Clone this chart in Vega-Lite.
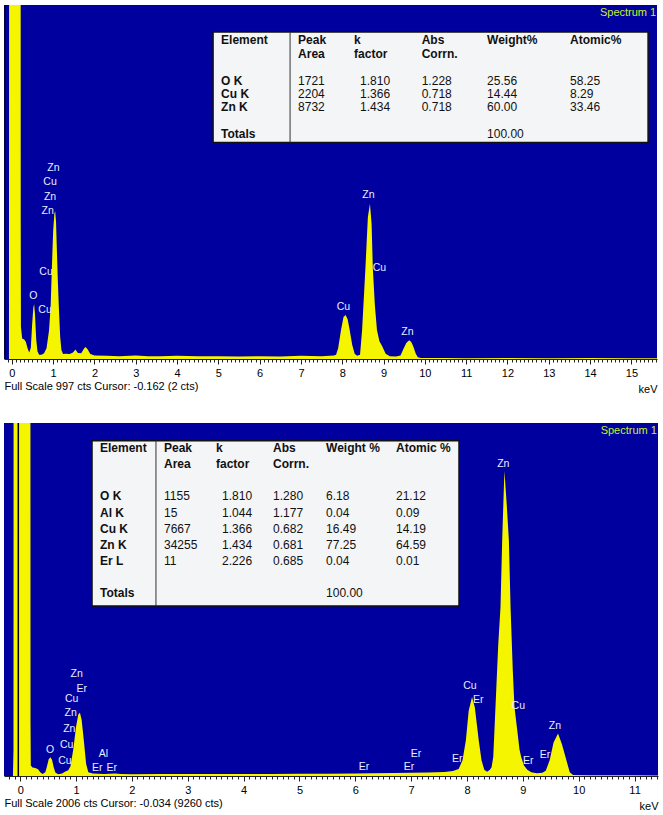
{
"$schema": "https://vega.github.io/schema/vega-lite/v6.json",
"background": "white",
"padding": {"left": 4, "top": 5, "right": 2, "bottom": 2},
"spacing": 29,
"datasets": {
"spec1": [{"keV":-0.19,"counts":0},{"keV":-0.07,"counts":0},{"keV":-0.065,"counts":1500},{"keV":-0.06,"counts":3000},{"keV":0.21,"counts":3000},{"keV":0.215,"counts":400},{"keV":0.22,"counts":90},{"keV":0.25,"counts":58},{"keV":0.3,"counts":55},{"keV":0.34,"counts":48},{"keV":0.38,"counts":30},{"keV":0.42,"counts":18},{"keV":0.46,"counts":32},{"keV":0.49,"counts":95},{"keV":0.52,"counts":145},{"keV":0.54,"counts":154},{"keV":0.56,"counts":125},{"keV":0.59,"counts":55},{"keV":0.62,"counts":22},{"keV":0.66,"counts":12},{"keV":0.72,"counts":12},{"keV":0.78,"counts":16},{"keV":0.84,"counts":30},{"keV":0.9,"counts":80},{"keV":0.94,"counts":150},{"keV":0.97,"counts":260},{"keV":1.0,"counts":360},{"keV":1.03,"counts":410},{"keV":1.05,"counts":416},{"keV":1.07,"counts":385},{"keV":1.11,"counts":232},{"keV":1.14,"counts":140},{"keV":1.17,"counts":63},{"keV":1.2,"counts":25},{"keV":1.24,"counts":14},{"keV":1.3,"counts":15},{"keV":1.4,"counts":14},{"keV":1.48,"counts":18},{"keV":1.54,"counts":27},{"keV":1.6,"counts":17},{"keV":1.68,"counts":16},{"keV":1.74,"counts":28},{"keV":1.78,"counts":34},{"keV":1.83,"counts":28},{"keV":1.9,"counts":14},{"keV":2.0,"counts":10},{"keV":2.3,"counts":9},{"keV":2.6,"counts":8},{"keV":3.0,"counts":10},{"keV":3.3,"counts":8},{"keV":3.6,"counts":8},{"keV":4.0,"counts":9},{"keV":4.5,"counts":8},{"keV":5.0,"counts":8},{"keV":5.5,"counts":7},{"keV":6.0,"counts":8},{"keV":6.5,"counts":7},{"keV":7.0,"counts":9},{"keV":7.5,"counts":8},{"keV":7.8,"counts":10},{"keV":7.85,"counts":12},{"keV":7.9,"counts":30},{"keV":7.97,"counts":82},{"keV":8.03,"counts":118},{"keV":8.08,"counts":124},{"keV":8.13,"counts":112},{"keV":8.18,"counts":82},{"keV":8.24,"counts":40},{"keV":8.3,"counts":15},{"keV":8.36,"counts":9},{"keV":8.43,"counts":12},{"keV":8.48,"counts":82},{"keV":8.56,"counts":255},{"keV":8.62,"counts":400},{"keV":8.67,"counts":437},{"keV":8.71,"counts":380},{"keV":8.74,"counts":255},{"keV":8.79,"counts":150},{"keV":8.84,"counts":82},{"keV":8.9,"counts":50},{"keV":8.97,"counts":35},{"keV":9.05,"counts":15},{"keV":9.15,"counts":8},{"keV":9.3,"counts":7},{"keV":9.41,"counts":10},{"keV":9.48,"counts":28},{"keV":9.55,"counts":45},{"keV":9.62,"counts":53},{"keV":9.67,"counts":48},{"keV":9.72,"counts":35},{"keV":9.78,"counts":15},{"keV":9.83,"counts":5},{"keV":9.9,"counts":3},{"keV":10.5,"counts":3},{"keV":11,"counts":2},{"keV":12,"counts":3},{"keV":13,"counts":2},{"keV":14,"counts":3},{"keV":15,"counts":2},{"keV":15.62,"counts":2}],
"spec2": [{"keV":-0.29,"counts":0},{"keV":-0.13,"counts":0},{"keV":-0.12,"counts":150},{"keV":-0.115,"counts":6000},{"keV":0.18,"counts":6000},{"keV":0.185,"counts":300},{"keV":0.19,"counts":60},{"keV":0.22,"counts":48},{"keV":0.27,"counts":45},{"keV":0.32,"counts":38},{"keV":0.36,"counts":22},{"keV":0.4,"counts":12},{"keV":0.45,"counts":22},{"keV":0.48,"counts":55},{"keV":0.51,"counts":95},{"keV":0.54,"counts":106},{"keV":0.57,"counts":92},{"keV":0.6,"counts":50},{"keV":0.63,"counts":20},{"keV":0.68,"counts":10},{"keV":0.75,"counts":14},{"keV":0.8,"counts":24},{"keV":0.86,"counts":32},{"keV":0.9,"counts":55},{"keV":0.95,"counts":150},{"keV":1.0,"counts":280},{"keV":1.04,"counts":350},{"keV":1.07,"counts":360},{"keV":1.1,"counts":320},{"keV":1.14,"counts":200},{"keV":1.18,"counts":70},{"keV":1.22,"counts":22},{"keV":1.3,"counts":14},{"keV":1.5,"counts":12},{"keV":1.7,"counts":14},{"keV":1.8,"counts":11},{"keV":2.0,"counts":10},{"keV":2.5,"counts":12},{"keV":3.0,"counts":11},{"keV":3.5,"counts":12},{"keV":4.0,"counts":12},{"keV":4.5,"counts":11},{"keV":5.0,"counts":13},{"keV":5.5,"counts":13},{"keV":6.0,"counts":14},{"keV":6.3,"counts":16},{"keV":6.7,"counts":17},{"keV":7.0,"counts":19},{"keV":7.3,"counts":20},{"keV":7.6,"counts":23},{"keV":7.75,"counts":28},{"keV":7.85,"counts":40},{"keV":7.92,"counts":89},{"keV":7.98,"counts":203},{"keV":8.03,"counts":370},{"keV":8.09,"counts":449},{"keV":8.14,"counts":390},{"keV":8.21,"counts":203},{"keV":8.26,"counts":89},{"keV":8.31,"counts":35},{"keV":8.36,"counts":24},{"keV":8.41,"counts":35},{"keV":8.44,"counts":50},{"keV":8.47,"counts":108},{"keV":8.51,"counts":392},{"keV":8.56,"counts":750},{"keV":8.6,"counts":961},{"keV":8.63,"counts":1339},{"keV":8.67,"counts":1733},{"keV":8.71,"counts":1550},{"keV":8.75,"counts":1339},{"keV":8.78,"counts":961},{"keV":8.82,"counts":600},{"keV":8.85,"counts":392},{"keV":8.9,"counts":260},{"keV":8.94,"counts":150},{"keV":8.97,"counts":108},{"keV":9.02,"counts":60},{"keV":9.08,"counts":35},{"keV":9.15,"counts":22},{"keV":9.25,"counts":16},{"keV":9.35,"counts":18},{"keV":9.41,"counts":30},{"keV":9.48,"counts":89},{"keV":9.55,"counts":190},{"keV":9.63,"counts":241},{"keV":9.7,"counts":180},{"keV":9.78,"counts":89},{"keV":9.84,"counts":22},{"keV":9.9,"counts":6},{"keV":10.2,"counts":4},{"keV":10.5,"counts":4},{"keV":11,"counts":4},{"keV":11.42,"counts":3}],
"labels1": [{"keV":1.005,"counts":537,"label":"Zn"},{"keV":0.925,"counts":498,"label":"Cu"},{"keV":0.925,"counts":457,"label":"Zn"},{"keV":0.869,"counts":418,"label":"Zn"},{"keV":0.828,"counts":246,"label":"Cu"},{"keV":0.52,"counts":178,"label":"O"},{"keV":0.804,"counts":138,"label":"Cu"},{"keV":8.632,"counts":462,"label":"Zn"},{"keV":8.898,"counts":255,"label":"Cu"},{"keV":8.027,"counts":147,"label":"Cu"},{"keV":9.576,"counts":77,"label":"Zn"}],
"labels2": [{"keV":1.012,"counts":578,"label":"Zn"},{"keV":1.101,"counts":497,"label":"Er"},{"keV":0.922,"counts":440,"label":"Cu"},{"keV":0.904,"counts":358,"label":"Zn"},{"keV":0.879,"counts":269,"label":"Zn"},{"keV":0.833,"counts":174,"label":"Cu"},{"keV":0.534,"counts":146,"label":"O"},{"keV":0.802,"counts":85,"label":"Cu"},{"keV":1.488,"counts":123,"label":"Al"},{"keV":1.38,"counts":48,"label":"Er"},{"keV":1.638,"counts":48,"label":"Er"},{"keV":6.156,"counts":52,"label":"Er"},{"keV":6.961,"counts":51,"label":"Er"},{"keV":7.087,"counts":123,"label":"Er"},{"keV":7.826,"counts":99,"label":"Er"},{"keV":8.054,"counts":510,"label":"Cu"},{"keV":8.202,"counts":430,"label":"Er"},{"keV":8.919,"counts":398,"label":"Cu"},{"keV":9.097,"counts":85,"label":"Er"},{"keV":9.396,"counts":118,"label":"Er"},{"keV":9.575,"counts":284,"label":"Zn"},{"keV":8.65,"counts":1771,"label":"Zn"}],
"meta1": [{"cursor": -0.162, "name": "Spectrum 1"}],
"meta2": [{"cursor": -0.034, "name": "Spectrum 1"}],
"t1": [
 {"line":0,"Element":"Element","Peak":"Peak","k":"k","Abs":"Abs","Weight":"Weight%","Atomic":"Atomic%"},
 {"line":1,"Element":"","Peak":"Area","k":"factor","Abs":"Corrn.","Weight":"","Atomic":""},
 {"line":3,"Element":"O K","Peak":"1721","k":"1.810","Abs":"1.228","Weight":"25.56","Atomic":"58.25"},
 {"line":4,"Element":"Cu K","Peak":"2204","k":"1.366","Abs":"0.718","Weight":"14.44","Atomic":"8.29"},
 {"line":5,"Element":"Zn K","Peak":"8732","k":"1.434","Abs":"0.718","Weight":"60.00","Atomic":"33.46"},
 {"line":7,"Element":"Totals","Peak":"","k":"","Abs":"","Weight":"100.00","Atomic":""}
],
"t2": [
 {"line":0,"Element":"Element","Peak":"Peak","k":"k","Abs":"Abs","Weight":"Weight %","Atomic":"Atomic %"},
 {"line":1,"Element":"","Peak":"Area","k":"factor","Abs":"Corrn.","Weight":"","Atomic":""},
 {"line":3,"Element":"O K","Peak":"1155","k":"1.810","Abs":"1.280","Weight":"6.18","Atomic":"21.12"},
 {"line":4,"Element":"Al K","Peak":"15","k":"1.044","Abs":"1.177","Weight":"0.04","Atomic":"0.09"},
 {"line":5,"Element":"Cu K","Peak":"7667","k":"1.366","Abs":"0.682","Weight":"16.49","Atomic":"14.19"},
 {"line":6,"Element":"Zn K","Peak":"34255","k":"1.434","Abs":"0.681","Weight":"77.25","Atomic":"64.59"},
 {"line":7,"Element":"Er L","Peak":"11","k":"2.226","Abs":"0.685","Weight":"0.04","Atomic":"0.01"},
 {"line":9,"Element":"Totals","Peak":"","k":"","Abs":"","Weight":"100.00","Atomic":""}
]
},
"vconcat": [
{
 "width": 653, "height": 354,
 "resolve": {"scale": {"y": "independent"}, "axis": {"x": "independent"}},
 "layer": [
  {"data": {"name": "spec1"},
   "mark": {"type": "area", "clip": true, "color": "#f5f500", "interpolate": "linear"},
   "encoding": {
    "x": {"field": "keV", "type": "quantitative", "scale": {"domain": [-0.19, 15.62], "nice": false, "zero": false},
          "axis": {"orient": "bottom", "values": [0,1,2,3,4,5,6,7,8,9,10,11,12,13,14,15], "tickSize": 5, "labelPadding": 3, "title": "Full Scale 997 cts Cursor: -0.162  (2 cts)", "titleAnchor": "start", "titlePadding": 2}},
    "y": {"field": "counts", "type": "quantitative", "scale": {"domain": [0, 997], "nice": false, "zero": true}, "axis": null}}},
  {"data": {"name": "meta1"},
   "mark": {"type": "rule", "color": "#000000", "strokeWidth": 1.5, "clip": true},
   "encoding": {
    "x": {"field": "cursor", "type": "quantitative", "scale": {"domain": [-0.19, 15.62], "nice": false, "zero": false},
          "axis": {"orient": "bottom", "tickCount": 158, "labels": false, "domain": false, "tickSize": 3, "title": null}}}},
  {"data": {"name": "labels1"},
   "mark": {"type": "text", "align": "center", "baseline": "middle", "fontSize": 10.5, "color": "#e8eeff"},
   "encoding": {
    "x": {"field": "keV", "type": "quantitative", "scale": {"domain": [-0.19, 15.62], "nice": false, "zero": false},
          "axis": {"orient": "bottom", "labels": false, "ticks": false, "domain": false, "title": "keV", "titleAnchor": "end", "titlePadding": 24}},
    "y": {"field": "counts", "type": "quantitative", "scale": {"domain": [0, 997], "nice": false, "zero": true}, "axis": null},
    "text": {"field": "label"}}},
  {"data": {"name": "meta1"},
   "mark": {"type": "text", "align": "right", "baseline": "middle", "fontSize": 11, "color": "#c8f01e"},
   "encoding": {
    "x": {"datum": 15.6, "type": "quantitative", "axis": null},
    "y": {"datum": 974, "type": "quantitative", "scale": {"domain": [0, 997], "nice": false, "zero": true}, "axis": null},
    "text": {"field": "name"}}},
  {"data": {"name": "meta1"},
   "mark": {"type": "rect", "fill": "#f4f5f7", "stroke": "#111111", "strokeWidth": 1.5},
   "encoding": {
    "x": {"datum": 4.872, "type": "quantitative", "axis": null}, "x2": {"datum": 15.404},
    "y": {"datum": -0.636, "type": "quantitative", "scale": {"domain": [-2.657, 23.84], "reverse": true, "nice": false, "zero": false}, "axis": null}, "y2": {"datum": 7.63}}},
  {"data": {"name": "meta1"},
   "mark": {"type": "rule", "color": "#333333", "strokeWidth": 1},
   "encoding": {
    "x": {"datum": 6.736, "type": "quantitative", "axis": null},
    "y": {"datum": -0.636, "type": "quantitative", "scale": {"domain": [-2.657, 23.84], "reverse": true, "nice": false, "zero": false}, "axis": null}, "y2": {"datum": 7.63}}},
  {"data": {"name": "t1"},
   "mark": {"type": "text", "align": "left", "baseline": "middle", "fontSize": 12, "fontWeight": "bold", "color": "#111111"},
   "encoding": {"x": {"datum": 5.065, "type": "quantitative", "axis": null},
    "y": {"field": "line", "type": "quantitative", "scale": {"domain": [-2.657, 23.84], "reverse": true, "nice": false, "zero": false}, "axis": null},
    "text": {"field": "Element"}}},
  {"data": {"name": "t1"}, "transform": [{"filter": "datum.line < 2"}],
   "mark": {"type": "text", "align": "left", "baseline": "middle", "fontSize": 12, "fontWeight": "bold", "color": "#111111"},
   "encoding": {"x": {"datum": 6.93, "type": "quantitative", "axis": null},
    "y": {"field": "line", "type": "quantitative", "scale": {"domain": [-2.657, 23.84], "reverse": true, "nice": false, "zero": false}, "axis": null},
    "text": {"field": "Peak"}}},
  {"data": {"name": "t1"}, "transform": [{"filter": "datum.line >= 2"}],
   "mark": {"type": "text", "align": "left", "baseline": "middle", "fontSize": 12, "color": "#111111"},
   "encoding": {"x": {"datum": 6.93, "type": "quantitative", "axis": null},
    "y": {"field": "line", "type": "quantitative", "scale": {"domain": [-2.657, 23.84], "reverse": true, "nice": false, "zero": false}, "axis": null},
    "text": {"field": "Peak"}}},
  {"data": {"name": "t1"}, "transform": [{"filter": "datum.line < 2"}],
   "mark": {"type": "text", "align": "left", "baseline": "middle", "fontSize": 12, "fontWeight": "bold", "color": "#111111"},
   "encoding": {"x": {"datum": 8.286, "type": "quantitative", "axis": null},
    "y": {"field": "line", "type": "quantitative", "scale": {"domain": [-2.657, 23.84], "reverse": true, "nice": false, "zero": false}, "axis": null},
    "text": {"field": "k"}}},
  {"data": {"name": "t1"}, "transform": [{"filter": "datum.line >= 2"}],
   "mark": {"type": "text", "align": "left", "baseline": "middle", "fontSize": 12, "color": "#111111"},
   "encoding": {"x": {"datum": 8.431, "type": "quantitative", "axis": null},
    "y": {"field": "line", "type": "quantitative", "scale": {"domain": [-2.657, 23.84], "reverse": true, "nice": false, "zero": false}, "axis": null},
    "text": {"field": "k"}}},
  {"data": {"name": "t1"}, "transform": [{"filter": "datum.line < 2"}],
   "mark": {"type": "text", "align": "left", "baseline": "middle", "fontSize": 12, "fontWeight": "bold", "color": "#111111"},
   "encoding": {"x": {"datum": 9.923, "type": "quantitative", "axis": null},
    "y": {"field": "line", "type": "quantitative", "scale": {"domain": [-2.657, 23.84], "reverse": true, "nice": false, "zero": false}, "axis": null},
    "text": {"field": "Abs"}}},
  {"data": {"name": "t1"}, "transform": [{"filter": "datum.line >= 2"}],
   "mark": {"type": "text", "align": "left", "baseline": "middle", "fontSize": 12, "color": "#111111"},
   "encoding": {"x": {"datum": 9.923, "type": "quantitative", "axis": null},
    "y": {"field": "line", "type": "quantitative", "scale": {"domain": [-2.657, 23.84], "reverse": true, "nice": false, "zero": false}, "axis": null},
    "text": {"field": "Abs"}}},
  {"data": {"name": "t1"}, "transform": [{"filter": "datum.line < 2"}],
   "mark": {"type": "text", "align": "left", "baseline": "middle", "fontSize": 12, "fontWeight": "bold", "color": "#111111"},
   "encoding": {"x": {"datum": 11.506, "type": "quantitative", "axis": null},
    "y": {"field": "line", "type": "quantitative", "scale": {"domain": [-2.657, 23.84], "reverse": true, "nice": false, "zero": false}, "axis": null},
    "text": {"field": "Weight"}}},
  {"data": {"name": "t1"}, "transform": [{"filter": "datum.line >= 2"}],
   "mark": {"type": "text", "align": "left", "baseline": "middle", "fontSize": 12, "color": "#111111"},
   "encoding": {"x": {"datum": 11.506, "type": "quantitative", "axis": null},
    "y": {"field": "line", "type": "quantitative", "scale": {"domain": [-2.657, 23.84], "reverse": true, "nice": false, "zero": false}, "axis": null},
    "text": {"field": "Weight"}}},
  {"data": {"name": "t1"}, "transform": [{"filter": "datum.line < 2"}],
   "mark": {"type": "text", "align": "left", "baseline": "middle", "fontSize": 12, "fontWeight": "bold", "color": "#111111"},
   "encoding": {"x": {"datum": 13.516, "type": "quantitative", "axis": null},
    "y": {"field": "line", "type": "quantitative", "scale": {"domain": [-2.657, 23.84], "reverse": true, "nice": false, "zero": false}, "axis": null},
    "text": {"field": "Atomic"}}},
  {"data": {"name": "t1"}, "transform": [{"filter": "datum.line >= 2"}],
   "mark": {"type": "text", "align": "left", "baseline": "middle", "fontSize": 12, "color": "#111111"},
   "encoding": {"x": {"datum": 13.516, "type": "quantitative", "axis": null},
    "y": {"field": "line", "type": "quantitative", "scale": {"domain": [-2.657, 23.84], "reverse": true, "nice": false, "zero": false}, "axis": null},
    "text": {"field": "Atomic"}}}
 ]
},
{
 "width": 654, "height": 353,
 "resolve": {"scale": {"y": "independent"}, "axis": {"x": "independent"}},
 "layer": [
  {"data": {"name": "spec2"},
   "mark": {"type": "area", "clip": true, "color": "#f5f500", "interpolate": "linear"},
   "encoding": {
    "x": {"field": "keV", "type": "quantitative", "scale": {"domain": [-0.29, 11.42], "nice": false, "zero": false},
          "axis": {"orient": "bottom", "values": [0,1,2,3,4,5,6,7,8,9,10,11], "tickSize": 5, "labelPadding": 3, "title": "Full Scale 2006 cts Cursor: -0.034  (9260 cts)", "titleAnchor": "start", "titlePadding": 2}},
    "y": {"field": "counts", "type": "quantitative", "scale": {"domain": [0, 2006], "nice": false, "zero": true}, "axis": null}}},
  {"data": {"name": "meta2"},
   "mark": {"type": "rule", "color": "#000000", "strokeWidth": 1.5, "clip": true},
   "encoding": {
    "x": {"field": "cursor", "type": "quantitative", "scale": {"domain": [-0.29, 11.42], "nice": false, "zero": false},
          "axis": {"orient": "bottom", "tickCount": 117, "labels": false, "domain": false, "tickSize": 3, "title": null}}}},
  {"data": {"name": "labels2"},
   "mark": {"type": "text", "align": "center", "baseline": "middle", "fontSize": 10.5, "color": "#e8eeff"},
   "encoding": {
    "x": {"field": "keV", "type": "quantitative", "scale": {"domain": [-0.29, 11.42], "nice": false, "zero": false},
          "axis": {"orient": "bottom", "labels": false, "ticks": false, "domain": false, "title": "keV", "titleAnchor": "end", "titlePadding": 24}},
    "y": {"field": "counts", "type": "quantitative", "scale": {"domain": [0, 2006], "nice": false, "zero": true}, "axis": null},
    "text": {"field": "label"}}},
  {"data": {"name": "meta2"},
   "mark": {"type": "text", "align": "right", "baseline": "middle", "fontSize": 11, "color": "#c8f01e"},
   "encoding": {
    "x": {"datum": 11.4, "type": "quantitative", "axis": null},
    "y": {"datum": 1961, "type": "quantitative", "scale": {"domain": [0, 2006], "nice": false, "zero": true}, "axis": null},
    "text": {"field": "name"}}},
  {"data": {"name": "meta2"},
   "mark": {"type": "rect", "fill": "#f4f5f7", "stroke": "#111111", "strokeWidth": 1.5},
   "encoding": {
    "x": {"datum": 1.286, "type": "quantitative", "axis": null}, "x2": {"datum": 7.857},
    "y": {"datum": -0.473, "type": "quantitative", "scale": {"domain": [-1.575, 20.405], "reverse": true, "nice": false, "zero": false}, "axis": null}, "y2": {"datum": 9.82}}},
  {"data": {"name": "meta2"},
   "mark": {"type": "rule", "color": "#333333", "strokeWidth": 1},
   "encoding": {
    "x": {"datum": 2.431, "type": "quantitative", "axis": null},
    "y": {"datum": -0.473, "type": "quantitative", "scale": {"domain": [-1.575, 20.405], "reverse": true, "nice": false, "zero": false}, "axis": null}, "y2": {"datum": 9.82}}},
  {"data": {"name": "t2"},
   "mark": {"type": "text", "align": "left", "baseline": "middle", "fontSize": 12, "fontWeight": "bold", "color": "#111111"},
   "encoding": {"x": {"datum": 1.429, "type": "quantitative", "axis": null},
    "y": {"field": "line", "type": "quantitative", "scale": {"domain": [-1.575, 20.405], "reverse": true, "nice": false, "zero": false}, "axis": null},
    "text": {"field": "Element"}}},
  {"data": {"name": "t2"}, "transform": [{"filter": "datum.line < 2"}],
   "mark": {"type": "text", "align": "left", "baseline": "middle", "fontSize": 12, "fontWeight": "bold", "color": "#111111"},
   "encoding": {"x": {"datum": 2.575, "type": "quantitative", "axis": null},
    "y": {"field": "line", "type": "quantitative", "scale": {"domain": [-1.575, 20.405], "reverse": true, "nice": false, "zero": false}, "axis": null},
    "text": {"field": "Peak"}}},
  {"data": {"name": "t2"}, "transform": [{"filter": "datum.line >= 2"}],
   "mark": {"type": "text", "align": "left", "baseline": "middle", "fontSize": 12, "color": "#111111"},
   "encoding": {"x": {"datum": 2.575, "type": "quantitative", "axis": null},
    "y": {"field": "line", "type": "quantitative", "scale": {"domain": [-1.575, 20.405], "reverse": true, "nice": false, "zero": false}, "axis": null},
    "text": {"field": "Peak"}}},
  {"data": {"name": "t2"}, "transform": [{"filter": "datum.line < 2"}],
   "mark": {"type": "text", "align": "left", "baseline": "middle", "fontSize": 12, "fontWeight": "bold", "color": "#111111"},
   "encoding": {"x": {"datum": 3.506, "type": "quantitative", "axis": null},
    "y": {"field": "line", "type": "quantitative", "scale": {"domain": [-1.575, 20.405], "reverse": true, "nice": false, "zero": false}, "axis": null},
    "text": {"field": "k"}}},
  {"data": {"name": "t2"}, "transform": [{"filter": "datum.line >= 2"}],
   "mark": {"type": "text", "align": "left", "baseline": "middle", "fontSize": 12, "color": "#111111"},
   "encoding": {"x": {"datum": 3.614, "type": "quantitative", "axis": null},
    "y": {"field": "line", "type": "quantitative", "scale": {"domain": [-1.575, 20.405], "reverse": true, "nice": false, "zero": false}, "axis": null},
    "text": {"field": "k"}}},
  {"data": {"name": "t2"}, "transform": [{"filter": "datum.line < 2"}],
   "mark": {"type": "text", "align": "left", "baseline": "middle", "fontSize": 12, "fontWeight": "bold", "color": "#111111"},
   "encoding": {"x": {"datum": 4.527, "type": "quantitative", "axis": null},
    "y": {"field": "line", "type": "quantitative", "scale": {"domain": [-1.575, 20.405], "reverse": true, "nice": false, "zero": false}, "axis": null},
    "text": {"field": "Abs"}}},
  {"data": {"name": "t2"}, "transform": [{"filter": "datum.line >= 2"}],
   "mark": {"type": "text", "align": "left", "baseline": "middle", "fontSize": 12, "color": "#111111"},
   "encoding": {"x": {"datum": 4.527, "type": "quantitative", "axis": null},
    "y": {"field": "line", "type": "quantitative", "scale": {"domain": [-1.575, 20.405], "reverse": true, "nice": false, "zero": false}, "axis": null},
    "text": {"field": "Abs"}}},
  {"data": {"name": "t2"}, "transform": [{"filter": "datum.line < 2"}],
   "mark": {"type": "text", "align": "left", "baseline": "middle", "fontSize": 12, "fontWeight": "bold", "color": "#111111"},
   "encoding": {"x": {"datum": 5.476, "type": "quantitative", "axis": null},
    "y": {"field": "line", "type": "quantitative", "scale": {"domain": [-1.575, 20.405], "reverse": true, "nice": false, "zero": false}, "axis": null},
    "text": {"field": "Weight"}}},
  {"data": {"name": "t2"}, "transform": [{"filter": "datum.line >= 2"}],
   "mark": {"type": "text", "align": "left", "baseline": "middle", "fontSize": 12, "color": "#111111"},
   "encoding": {"x": {"datum": 5.476, "type": "quantitative", "axis": null},
    "y": {"field": "line", "type": "quantitative", "scale": {"domain": [-1.575, 20.405], "reverse": true, "nice": false, "zero": false}, "axis": null},
    "text": {"field": "Weight"}}},
  {"data": {"name": "t2"}, "transform": [{"filter": "datum.line < 2"}],
   "mark": {"type": "text", "align": "left", "baseline": "middle", "fontSize": 12, "fontWeight": "bold", "color": "#111111"},
   "encoding": {"x": {"datum": 6.729, "type": "quantitative", "axis": null},
    "y": {"field": "line", "type": "quantitative", "scale": {"domain": [-1.575, 20.405], "reverse": true, "nice": false, "zero": false}, "axis": null},
    "text": {"field": "Atomic"}}},
  {"data": {"name": "t2"}, "transform": [{"filter": "datum.line >= 2"}],
   "mark": {"type": "text", "align": "left", "baseline": "middle", "fontSize": 12, "color": "#111111"},
   "encoding": {"x": {"datum": 6.729, "type": "quantitative", "axis": null},
    "y": {"field": "line", "type": "quantitative", "scale": {"domain": [-1.575, 20.405], "reverse": true, "nice": false, "zero": false}, "axis": null},
    "text": {"field": "Atomic"}}}
 ]
}
],
"config": {
 "view": {"fill": "#00009f", "stroke": null},
 "font": "Liberation Sans",
 "axis": {"labelFont": "Liberation Sans", "titleFont": "Liberation Sans", "labelColor": "#000000", "titleColor": "#000000", "labelFontSize": 11, "titleFontSize": 11, "titleFontWeight": "normal", "tickColor": "#222222", "domainColor": "#222222", "grid": false},
 "text": {"font": "Liberation Sans"}
}
}
